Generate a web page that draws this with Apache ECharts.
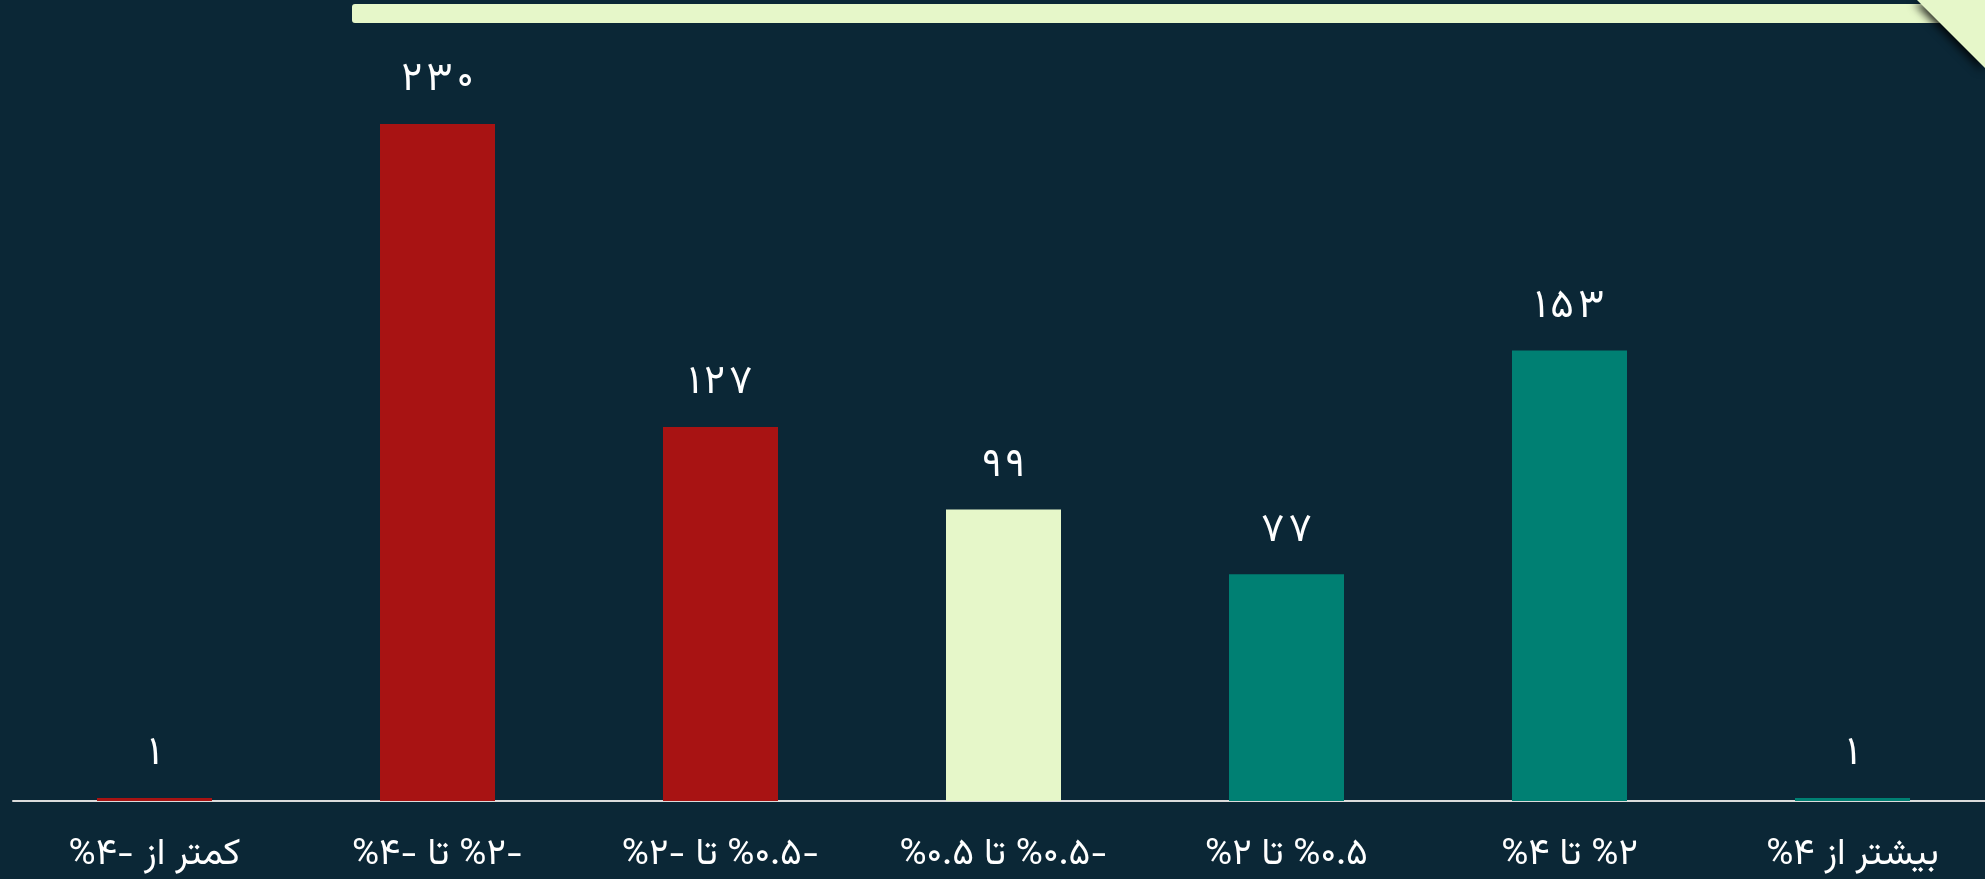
<!DOCTYPE html>
<html>
<head>
<meta charset="utf-8">
<script src="https://cdn.jsdelivr.net/npm/echarts@6/dist/echarts.min.js"></script>
<style>
html,body{margin:0;padding:0;background:#0b2736;overflow:hidden;}
#chart{width:2000px;height:879px;}
</style>
</head>
<body>
<div id="chart"></div>
<script>
// ---- data ----
const categories = ['کمتر از -۴%', '-۲% تا -۴%', '-۰.۵% تا -۲%', '-۰.۵% تا ۰.۵%', '۰.۵% تا ۲%', '۲% تا ۴%', 'بیشتر از ۴%'];
const counts = [1, 230, 127, 99, 77, 153, 1];
const barColors = ['#a81313', '#a81313', '#a81313', '#e6f7c9', '#008073', '#008073', '#008073'];

const FONT = "'Vazirmatn','Noto Sans Arabic','DejaVu Sans', sans-serif";
const toFa = s => String(s).replace(/\d/g, d => '۰۱۲۳۴۵۶۷۸۹'[d]);
const spaced = s => s.split('').join('\u200A');
const rtl = s => '\u202B\u061C' + s + '\u202C';

const chart = echarts.init(document.getElementById('chart'), null, {renderer: 'canvas'});
chart.setOption({
  backgroundColor: '#0b2736',
  animation: false,
  grid: {left: 13, width: 1981, top: 65, bottom: 78, containLabel: false},
  xAxis: {
    type: 'category',
    data: categories,
    axisLine: {show: true, lineStyle: {color: '#dcdcdc', width: 2}},
    axisTick: {show: false},
    axisLabel: {color: '#ffffff', fontSize: 37, fontFamily: FONT, margin: 39, formatter: v => rtl(v)}
  },
  yAxis: {
    type: 'value', min: 0, max: 250,
    show: false, splitLine: {show: false}
  },
  series: [{
    type: 'bar',
    barWidth: 115,
    data: counts.map((v, i) => ({value: v, itemStyle: {color: barColors[i]}})),
    label: {
      show: true, position: 'top', distance: 20,
      color: '#ffffff', fontSize: 40, fontFamily: FONT,
      formatter: p => spaced(toFa(p.value))
    }
  }],
  graphic: [
    {type: 'rect', shape: {x: 352, y: 4, width: 1620, height: 19, r: 3}, style: {fill: '#e6f7c9'}, z: 10},
    {type: 'polygon', shape: {points: [[1917, 0], [1985, 0], [1985, 68]]},
     style: {fill: '#e6f7c9', shadowBlur: 8, shadowColor: 'rgba(0,0,0,0.8)', shadowOffsetX: -3, shadowOffsetY: 3}, z: 11}
  ]
});
</script>
</body>
</html>
